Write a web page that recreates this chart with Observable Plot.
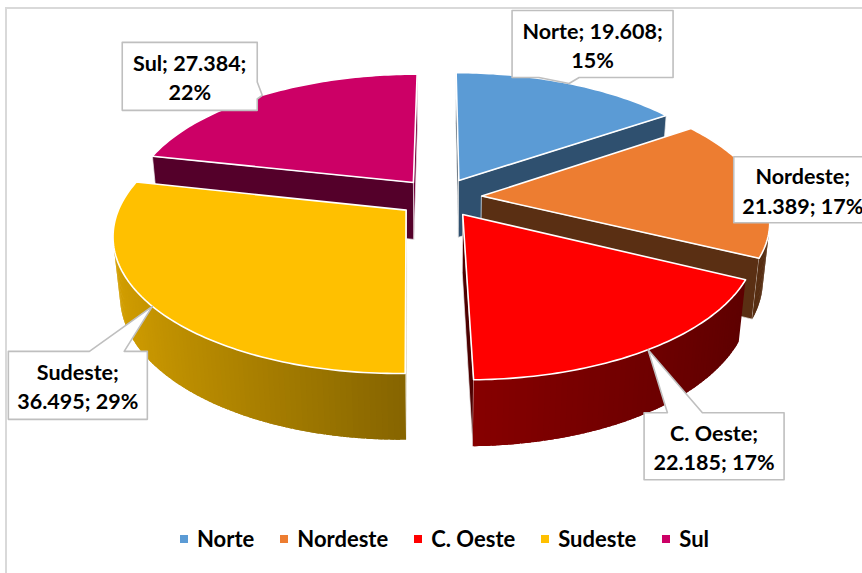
<!DOCTYPE html>
<html><head><meta charset="utf-8">
<script src="https://cdn.jsdelivr.net/npm/d3@7"></script>
<script src="https://cdn.jsdelivr.net/npm/@observablehq/plot@0.6"></script>
<style>
html,body{margin:0;padding:0;background:#fff;overflow:hidden;}
#wrap{position:relative;width:862px;height:573px;overflow:hidden;}
#frame{position:absolute;left:5px;top:7px;width:900px;height:600px;border:2px solid #D9D9D9;box-sizing:border-box;pointer-events:none;}
#chart{position:absolute;left:0;top:0;}
#legend{position:absolute;left:180px;top:522px;}
.lg-swatches{font:bold 22px Lato, sans-serif !important;color:#000 !important;}
.lg-swatch{margin-right:26px !important;}
.lg-swatch > svg{margin-right:9px !important;}
</style></head><body>
<div id="wrap"><div id="chart"></div><div id="legend"></div><div id="frame"></div></div>
<script>
// ---- data ----
const regions = ["Norte", "Nordeste", "C. Oeste", "Sudeste", "Sul"];
const values = [19608, 21389, 22185, 36495, 27384];
const colors = ["#5B9BD5", "#ED7D31", "#FF0000", "#FFC000", "#CC0066"];

// ---- layout ----
const W = 862, H = 520;
const view = {cx: 439, cy: 197, F: 1492, D: 5.27, tilt: 27.6 * Math.PI / 180, explode: 0.15, depth: 0.235};
const labelOffset = [[23.5, -39.5], [43, 3], [66, 96.5], [-74.5, 79], [-72.5, -19]];
const labelBox = [[161, 67], [138, 66], [140, 67], [139, 68], [135, 68]];
const labelBreak = [2, 1, 1, 1, 2];

const s = Math.sin(view.tilt), c = Math.cos(view.tilt);
const camY = -view.D * c, camZ = view.D * s;
function proj([X, Y, Z]) {
  const ry = Y - camY, rz = Z - camZ;
  const d = ry * c - rz * s;
  const ys = ry * s + rz * c;
  return [view.cx + view.F * X / d, view.cy - view.F * ys / d];
}
const mul = (col, f) => { const r = d3.rgb(col); return d3.rgb(r.r * f, r.g * f, r.b * f).formatHex(); };
const wallShade = nx => nx < 0 ? 0.53 - 0.31 * nx : 0.53 - 0.18 * nx;
const cutShade = nx => 0.44 + 0.14 * nx;

const total = d3.sum(values);
const arcs = d3.pie().sort(null).value(d => d)(values);
const slices = arcs.map((a, i) => {
  const mid = (a.startAngle + a.endAngle) / 2;
  return {i, a0: a.startAngle, a1: a.endAngle, mid,
    ox: view.explode * Math.sin(mid), oy: view.explode * Math.cos(mid)};
});
const rim = (sl, t, z) => [sl.ox + Math.sin(t), sl.oy + Math.cos(t), z];
const apex = (sl, z) => [sl.ox, sl.oy, z];
const faces = (n, p) => n[0] * (0 - p[0]) + n[1] * (camY - p[1]) > 0;

const polys = [];
let pid = 0;
function addPoly(pts, fill, stroke, sw) {
  const id = pid++;
  for (const p of pts) { const [x, y] = proj(p); polys.push({id, x, y, fill, stroke, sw}); }
}
const h = view.depth;
const order = slices.slice().sort((p, q) => q.oy - p.oy);
for (const sl of order) {
  const base = colors[sl.i];
  const N = Math.max(2, Math.ceil((sl.a1 - sl.a0) / (Math.PI / 180)));
  const step = (sl.a1 - sl.a0) / N;
  const ts = d3.range(N + 1).map(k => sl.a0 + step * k);
  // radial cut faces
  const cuts = [[sl.a0, [-Math.cos(sl.a0), Math.sin(sl.a0)]], [sl.a1, [Math.cos(sl.a1), -Math.sin(sl.a1)]]];
  for (const [a, n] of cuts) {
    if (faces(n, apex(sl, 0))) {
      const col = mul(base, cutShade(n[0]));
      addPoly([apex(sl, 0), rim(sl, a, 0), rim(sl, a, -h), apex(sl, -h)], col, "#ececec", 0.7);
    }
  }
  // outer wall: overlapping strips, no stroke, so no seams
  for (let k = 0; k < N; k++) {
    const t = (ts[k] + ts[k + 1]) / 2;
    const n = [Math.sin(t), Math.cos(t)];
    if (!faces(n, rim(sl, t, 0))) continue;
    const col = mul(base, wallShade(n[0]));
    const tA = ts[k], tB = Math.min(sl.a1, ts[k + 1] + step * 0.8);
    const tM = (tA + tB) / 2;
    addPoly([rim(sl, tA, 0), rim(sl, tM, 0), rim(sl, tB, 0), rim(sl, tB, -h), rim(sl, tM, -h), rim(sl, tA, -h)], col, "none", 0);
  }
  // top face
  addPoly([apex(sl, 0), ...ts.map(t => rim(sl, t, 0))], base, "#ffffff", 1.6);
}

// ---- callouts ----
const fmt = d3.formatLocale({decimal: ",", thousands: ".", grouping: [3], currency: ["R$", ""]}).format(",d");
function callout(bx, by, w, hh, tx, ty) {
  const x0 = bx - w / 2, x1 = bx + w / 2, y0 = by - hh / 2, y1 = by + hh / 2;
  const dx = (tx - bx) / w, dy = (ty - by) / hh;
  const fr = u => u < 0 ? [2 / 12, 5 / 12] : [7 / 12, 10 / 12];
  if (Math.abs(dx) <= 0.5 && Math.abs(dy) <= 0.5) return [[x0, y0], [x1, y0], [x1, y1], [x0, y1]];
  if (Math.abs(dx) > Math.abs(dy)) {
    const [f1, f2] = fr(dy);
    if (dx > 0) return [[x0, y0], [x1, y0], [x1, y0 + hh * f1], [tx, ty], [x1, y0 + hh * f2], [x1, y1], [x0, y1]];
    return [[x0, y0], [x1, y0], [x1, y1], [x0, y1], [x0, y0 + hh * f2], [tx, ty], [x0, y0 + hh * f1]];
  } else {
    const [f1, f2] = fr(dx);
    if (dy > 0) return [[x0, y0], [x1, y0], [x1, y1], [x0 + w * f2, y1], [tx, ty], [x0 + w * f1, y1], [x0, y1]];
    return [[x0, y0], [x0 + w * f1, y0], [tx, ty], [x0 + w * f2, y0], [x1, y0], [x1, y1], [x0, y1]];
  }
}
const boxes = [], labels = [];
slices.forEach(sl => {
  const i = sl.i;
  const [tx, ty] = proj(rim(sl, sl.mid, 0));
  const bx = tx + labelOffset[i][0], by = ty + labelOffset[i][1];
  const [w, hh] = labelBox[i];
  callout(bx, by, w, hh, tx, ty).forEach(([x, y]) => boxes.push({id: i, x, y}));
  const pct = Math.round(values[i] / total * 100);
  const parts = [regions[i] + ";", fmt(values[i]) + ";", pct + "%"];
  const b = labelBreak[i];
  labels.push({x: bx, y: by, text: parts.slice(0, b).join(" ") + "\n" + parts.slice(b).join(" ")});
});

const chart = Plot.plot({
  width: W, height: H, margin: 0,
  style: {background: "transparent"},
  x: {type: "linear", domain: [0, W], range: [0, W], axis: null},
  y: {type: "linear", domain: [0, H], range: [0, H], axis: null},
  marks: [
    Plot.line(polys, {x: "x", y: "y", z: "id", fill: "fill", stroke: "stroke", strokeWidth: "sw", curve: "linear-closed", strokeLinejoin: "round"}),
    Plot.line(boxes, {x: "x", y: "y", z: "id", fill: "#ffffff", stroke: "#BFBFBF", strokeWidth: 1.6, curve: "linear-closed"}),
    Plot.text(labels, {x: "x", y: "y", text: "text", fontSize: 21.5, fontWeight: "bold", fontFamily: "Lato, sans-serif", lineHeight: 1.36, fill: "#000"})
  ]
});
document.getElementById("chart").append(chart);

const leg = Plot.legend({color: {type: "ordinal", domain: regions, range: colors}, swatchSize: 8, className: "lg"});
document.getElementById("legend").append(leg);
</script>
</body></html>
